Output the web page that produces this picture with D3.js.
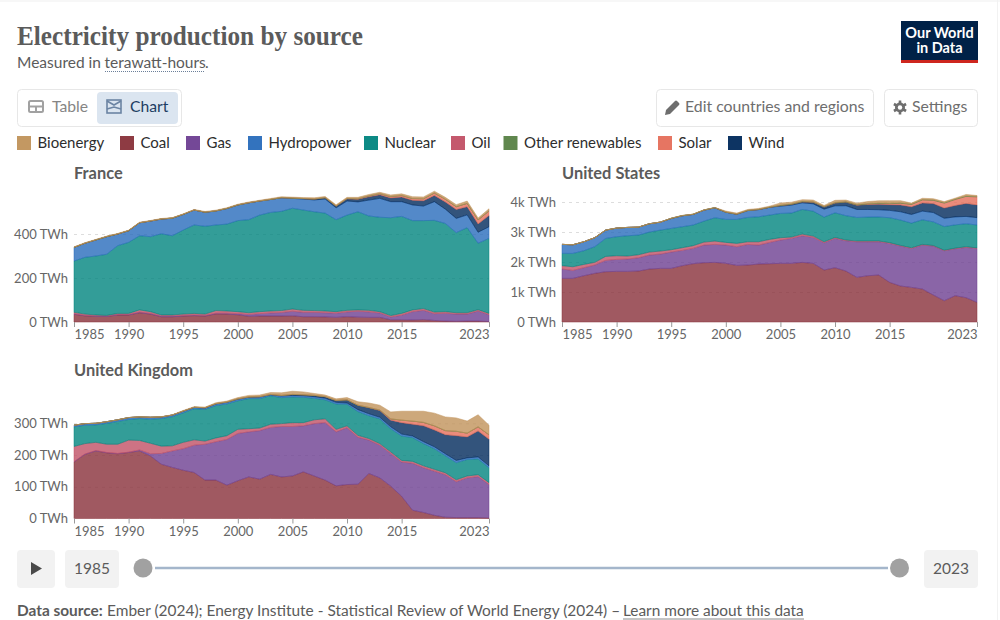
<!DOCTYPE html>
<html>
<head>
<meta charset="utf-8">
<script src="https://cdn.jsdelivr.net/npm/d3@7"></script>
<style>
  body { margin: 0; background: #fff; }
  text { font-family: Lato, "Noto Sans", sans-serif; }
</style>
</head>
<body>
<svg id="chart" width="1000" height="620"></svg>
<script>
const years = d3.range(1985, 2024);
const sources = ["Coal", "Gas", "Oil", "Nuclear", "Hydropower", "Wind", "Solar", "Other renewables", "Bioenergy"];
const legendOrder = ["Bioenergy", "Coal", "Gas", "Hydropower", "Nuclear", "Oil", "Other renewables", "Solar", "Wind"];
const sourceColors = ["#883039", "#6d3e91", "#c15065", "#00847e", "#286bbb", "#00295b", "#e56e5a", "#578145", "#c0925a"];

// France, TWh
const frCoal = [35,28,26,25,32,32,42,36,24,24,27,29,27,37,36,33,26,27,27,27,28,24,24,23,21,24,22,21,21,10,10,9,11,7,4,3,4,4,2];
const frGas = [2,2,2,2,2,2,3,3,3,3,3,3,3,3,4,5,8,11,14,16,21,20,20,19,19,22,27,25,20,13,21,38,42,31,36,33,32,46,31];
const frOil = [7,6,4,3,5,5,10,8,5,5,6,7,6,12,10,9,8,9,9,9,10,9,8,8,7,7,6,7,6,6,8,8,8,7,7,6,6,6,6];
const frNuclear = [233,258,268,278,308,323,337,341,369,360,382,402,399,389,395,414,423,439,448,451,458,456,449,445,418,433,446,429,429,445,441,406,400,417,401,364,387,302,341];
const frHydro = [62,64,73,80,53,53,59,71,67,80,71,68,64,64,71,71,77,64,59,62,45,50,54,64,54,64,45,72,86,73,67,71,66,85,65,65,58,50,53];
const frWind = [0,0,0,0,0,0,0,0,0,0,0,0,0,0,0,0,0,0,0,0,1,2,4,6,8,10,12,15,16,17,21,21,24,28,33,40,37,38,51];
const frSolar = [0,0,0,0,0,0,0,0,0,0,0,0,0,0,0,0,0,0,0,0,0,0,0,0,0,1,2,4,5,6,7,8,9,11,12,13,15,18,21];
const frOther = [0.5,0.5,0.5,0.5,0.5,0.5,0.5,0.5,0.5,0.5,0.5,0.5,0.5,0.5,0.5,0.5,0.5,0.5,0.5,0.5,0.5,0.5,0.5,0.5,0.5,0.5,0.5,0.5,0.5,0.5,0.5,0.5,0.5,0.5,0.5,0.5,0.5,0.5,0.5];
const frBio = [2,2,2,2,2,2,2,2,2,2,2,2,3,3,3,3,3,3,4,4,4,4,5,5,5,5,6,6,6,7,7,8,8,8,8,9,10,8,9];

// United States, TWh
const usCoal = [1454,1454,1543,1621,1676,1687,1687,1698,1765,1787,1787,1876,1943,1976,1987,1954,1887,1898,1931,1943,1954,1954,1987,1954,1732,1809,1698,1487,1543,1565,1321,1199,1154,1099,899,710,877,810,655];
const usGas = [311,266,266,278,377,400,411,444,466,477,544,511,511,588,599,611,622,688,633,710,777,833,888,866,910,977,1010,1188,1132,1110,1299,1332,1299,1465,1632,1665,1565,1676,1798];
const usOil = [111,122,111,89,133,122,100,100,100,100,78,89,89,100,111,89,111,89,111,100,78,44,55,44,33,33,25,22,22,25,25,22,22,22,18,18,19,23,16];
const usNuclear = [411,444,455,522,599,633,677,655,666,699,710,699,688,699,777,766,799,810,832,810,810,799,821,832,821,821,810,788,799,799,832,844,821,821,788,788,777,766,766];
const usHydro = [300,289,300,300,278,289,278,266,278,266,333,366,355,366,333,240,175,230,242,260,244,266,222,244,266,233,333,266,255,244,244,277,289,289,311,277,266,244,244];
const usWind = [0,0,0,0,0,0,0,0,0,0,0,0,0,0,0,0,0,0,0,0,18,27,33,55,74,95,120,141,168,182,190,227,254,272,298,338,379,434,425];
const usSolar = [0,0,0,0,0,0,0,0,0,0,0,0,0,0,0,0,0,0,0,0,0,0,1,1,2,3,4,9,16,25,35,55,78,100,110,166,200,233,266];
const usOther = [0,0,0,0,0,0,0,0,0,0,8,8,8,8,8,8,8,8,8,8,15,15,15,15,15,15,15,16,16,16,16,16,16,16,17,16,16,16,16];
const usBio = [0,0,0,0,0,0,0,0,0,0,0,0,0,0,0,30,28,28,28,30,70,55,55,55,32,70,50,45,65,75,80,72,30,40,38,35,30,50,30];

// United Kingdom, TWh
const ukCoal = [178,202,213,207,204,208,213,197,171,161,152,145,121,121,105,119,131,124,139,131,134,147,134,121,103,107,108,142,128,102,70,26,19,10,4,3,3,3,2];
const ukGas = [1,1,1,1,1,1,3,7,34,52,68,86,113,121,144,149,142,153,148,159,156,145,165,181,170,179,148,105,103,103,108,148,141,139,134,113,125,129,105];
const ukOil = [48,33,26,26,29,38,30,33,23,16,20,17,10,12,12,13,10,8,10,9,12,10,12,12,8,6,6,5,5,5,5,6,6,6,6,6,6,6,6];
const ukNuclear = [62,58,55,66,72,65,69,76,87,92,93,98,100,102,100,90,95,93,90,82,81,80,68,60,80,68,75,72,78,73,77,75,70,65,54,54,52,50,47];
const ukHydro = [5,5,5,5,5,6,5,6,5,5,5,4,4,5,5,5,4,5,3,5,5,5,5,5,5,4,6,6,5,6,6,5,6,6,6,7,5,6,6];
const ukWind = [0,0,0,0,0,0,0,0,0,0,0.5,0.5,1,1,1,1,1,1,1,2,3,3,4,5,6,10,14,19,21,21,36,37,50,53,60,78,66,82,84];
const ukSolar = [0,0,0,0,0,0,0,0,0,0,0,0,0,0,0,0,0,0,0,0,0,0,0,0,0,0,0,1,2,4,8,10,11,13,13,14,12,13,14];
const ukOther = [0,0,0,0,0,0,0,0,0,0,0,0,0,0,0,0,0,0,0,0,0,0,0,0,0,0,0,0,0,0,0,0,0,0,0,0,0,0,0];
const ukBio = [0,0,0,0,0,0.5,0.5,0.5,1,1,2,2,2,3,3,4,5,5,6,8,10,9,6,5,5,7,11,14,15,22,28,31,35,40,43,42,38,38,30];

const xTicks = [1985, 1990, 1995, 2000, 2005, 2010, 2015, 2023];
const frTicks = [0, 200, 400];
const usTicks = [0, 1000, 2000, 3000, 4000];
const ukTicks = [0, 100, 200, 300];

const panels = [
  { name: "France", series: [frCoal, frGas, frOil, frNuclear, frHydro, frWind, frSolar, frOther, frBio],
    ticks: frTicks, left: 74, base: 322, top: 234 },
  { name: "United States", series: [usCoal, usGas, usOil, usNuclear, usHydro, usWind, usSolar, usOther, usBio],
    ticks: usTicks, left: 562, base: 322, top: 202 },
  { name: "United Kingdom", series: [ukCoal, ukGas, ukOil, ukNuclear, ukHydro, ukWind, ukSolar, ukOther, ukBio],
    ticks: ukTicks, left: 74, base: 518.5, top: 423.3 }
];

const grey = "#5b5b5b";
const svg = d3.select("#chart");
const color = d3.scaleOrdinal().domain(sources).range(sourceColors);

drawHeader();
drawLegend();
panels.forEach(drawPanel);
drawTimeline();

function addText(x, y, str, size, fill, weight, anchor) {
  return svg.append("text")
    .attr("x", x)
    .attr("y", y)
    .attr("font-size", size)
    .attr("fill", fill)
    .attr("font-weight", weight || 400)
    .attr("text-anchor", anchor || "start")
    .text(str);
}

function addBox(x, y, w, h, fill, stroke) {
  return svg.append("rect")
    .attr("x", x)
    .attr("y", y)
    .attr("width", w)
    .attr("height", h)
    .attr("rx", 4)
    .attr("fill", fill)
    .attr("stroke", stroke || "none");
}

function drawHeader() {
  svg.append("line")
    .attr("x1", 0).attr("x2", 1000)
    .attr("y1", 1).attr("y2", 1)
    .attr("stroke", "#efefef");
  svg.append("line")
    .attr("x1", 997.5).attr("x2", 997.5)
    .attr("y1", 0).attr("y2", 620)
    .attr("stroke", "#f2f2f2");

  addText(17, 45, "Electricity production by source", 27, grey, 700)
    .style("font-family", '"Liberation Serif", serif')
    .attr("textLength", 346)
    .attr("lengthAdjust", "spacingAndGlyphs");

  addText(17, 67.5, "Measured in ", 15.5, grey);
  addText(104.5, 67.5, "terawatt-hours", 15.5, grey);
  addText(205, 67.5, ".", 15.5, grey);
  svg.append("line")
    .attr("x1", 105).attr("x2", 204)
    .attr("y1", 71.5).attr("y2", 71.5)
    .attr("stroke", "#6b7f99")
    .attr("stroke-dasharray", "1,1");

  // logo
  svg.append("rect").attr("x", 901).attr("y", 21).attr("width", 77).attr("height", 42).attr("fill", "#002147");
  svg.append("rect").attr("x", 901).attr("y", 60).attr("width", 77).attr("height", 3).attr("fill", "#ce261e");
  addText(939.5, 38, "Our World", 14.5, "#fff", 700, "middle");
  addText(939.5, 53, "in Data", 14.5, "#fff", 700, "middle");

  // table / chart switch
  addBox(17.5, 89.5, 164, 37, "#fff", "#e7e7e7");
  addBox(97, 92, 81, 32, "#dbe5f0");
  const tableIcon = svg.append("g").attr("transform", "translate(29,101)")
    .attr("fill", "none").attr("stroke", "#a1a1a1").attr("stroke-width", 2);
  tableIcon.append("rect").attr("width", 14).attr("height", 11).attr("rx", 1.5);
  tableIcon.append("path").attr("d", "M0 5.5H14M7 5.5V11");
  addText(52, 112, "Table", 15.7, "#858585");
  const chartIcon = svg.append("g").attr("transform", "translate(107,100)")
    .attr("fill", "none").attr("stroke", "#6b84a3").attr("stroke-width", 1.6);
  chartIcon.append("rect").attr("width", 14).attr("height", 13);
  chartIcon.append("path").attr("d", "M0 1L7 5L14 1M0 9L7 7L14 9");
  addText(130, 112, "Chart", 15.7, "#1d3d63");

  // right hand buttons
  addBox(656.5, 89.5, 217, 37, "#fff", "#e7e7e7");
  svg.append("path")
    .attr("transform", "translate(665,100)")
    .attr("d", "M0 15L1 10L10 1Q11 0 12 1L14 3Q15 4 14 5L5 14Z")
    .attr("fill", "#6e6e6e");
  addText(685, 112, "Edit countries and regions", 15.8, "#6e6e6e");
  addBox(884.5, 89.5, 93, 37, "#fff", "#e7e7e7");
  const gear = svg.append("g").attr("transform", "translate(900,107.5)");
  gear.selectAll("line")
    .data(d3.range(0, 180, 60))
    .enter()
    .append("line")
    .attr("x1", -7).attr("x2", 7)
    .attr("stroke", "#6e6e6e")
    .attr("stroke-width", 2.6)
    .attr("transform", d => `rotate(${d + 30})`);
  gear.append("circle").attr("r", 5).attr("fill", "#6e6e6e");
  gear.append("circle").attr("r", 2.2).attr("fill", "#fff");
  addText(912, 112, "Settings", 15.8, "#6e6e6e");
}

function drawLegend() {
  const legendX = [17, 120, 186, 248, 364, 451, 503.5, 658, 728];
  legendOrder.forEach((name, i) => {
    svg.append("rect")
      .attr("x", legendX[i])
      .attr("y", 136)
      .attr("width", 14)
      .attr("height", 14)
      .attr("fill", color(name))
      .attr("fill-opacity", 0.95);
    addText(legendX[i] + 20.5, 148, name, 15, "#2d2d2d");
  });
}

function drawPanel(panel) {
  const xScale = d3.scaleLinear()
    .domain([1985, 2023])
    .range([panel.left, panel.left + 415]);

  const yMax = d3.max(panel.ticks);
  const yScale = d3.scaleLinear()
    .domain([0, yMax])
    .range([panel.base, panel.top]);

  addText(panel.left, panel.base - 143, panel.name, 16.4, grey, 700);

  // gridlines sit behind the areas
  const grid = svg.append("g")
    .attr("transform", `translate(${panel.left},0)`)
    .call(d3.axisLeft(yScale).tickValues(panel.ticks.slice(1)).tickSize(-415).tickFormat(""));
  grid.select(".domain").remove();
  grid.selectAll("line")
    .attr("stroke", "#dddddd")
    .attr("stroke-dasharray", "3,4");

  const rows = years.map((year, i) => {
    const row = { year };
    sources.forEach((s, j) => { row[s] = panel.series[j][i]; });
    return row;
  });
  const stacked = d3.stack().keys(sources)(rows);

  const area = d3.area()
    .x(d => xScale(d.data.year))
    .y0(d => yScale(d[0]))
    .y1(d => yScale(d[1]));

  svg.append("g")
    .selectAll("path")
    .data(stacked)
    .enter()
    .append("path")
    .attr("d", area)
    .attr("fill", d => color(d.key))
    .attr("fill-opacity", 0.8)
    .attr("stroke", d => color(d.key))
    .attr("stroke-width", 0.5);

  const yAxis = d3.axisLeft(yScale)
    .tickValues(panel.ticks)
    .tickSize(0)
    .tickPadding(6)
    .tickFormat(d => d >= 1000 ? `${d / 1000}k TWh` : `${d} TWh`);
  const yGroup = svg.append("g")
    .attr("transform", `translate(${panel.left},0)`)
    .call(yAxis);
  yGroup.select(".domain").remove();
  yGroup.selectAll("text")
    .attr("font-size", 13)
    .attr("fill", "#666666")
    .style("font-family", "Lato");

  const xAxis = d3.axisBottom(xScale)
    .tickValues(xTicks)
    .tickSize(5)
    .tickPadding(3)
    .tickFormat(d3.format("d"));
  const xGroup = svg.append("g")
    .attr("transform", `translate(0,${panel.base})`)
    .call(xAxis);
  xGroup.select(".domain").remove();
  xGroup.selectAll("line").attr("stroke", "#999999");
  xGroup.selectAll("text")
    .attr("font-size", 13)
    .attr("fill", "#666666")
    .style("font-family", "Lato")
    .attr("text-anchor", d => d === 1985 ? "start" : d === 2023 ? "end" : "middle");
}

function drawTimeline() {
  addBox(17, 550, 38, 38, "#f2f2f2");
  svg.append("path").attr("d", "M31 562V575L42 568.5Z").attr("fill", "#4a4a4a");
  addBox(65, 550, 54, 38, "#f2f2f2");
  addText(92, 574, "1985", 15.5, "#5b5b5b", 400, "middle");
  addBox(924, 550, 54, 38, "#f2f2f2");
  addText(951, 574, "2023", 15.5, "#5b5b5b", 400, "middle");

  svg.append("line")
    .attr("x1", 155).attr("x2", 888)
    .attr("y1", 568).attr("y2", 568)
    .attr("stroke", "#a4b6cb")
    .attr("stroke-width", 2.5);
  svg.selectAll(".handle")
    .data([143, 899.5])
    .enter()
    .append("circle")
    .attr("class", "handle")
    .attr("cx", d => d)
    .attr("cy", 568)
    .attr("r", 9.5)
    .attr("fill", "#a1a1a1");

  addText(17, 616, "Data source:", 15.4, grey, 700);
  addText(107, 616, "Ember (2024); Energy Institute - Statistical Review of World Energy (2024) –", 15.45, grey);
  addText(623, 616, "Learn more about this data", 15.4, grey);
  svg.append("line")
    .attr("x1", 623).attr("x2", 804)
    .attr("y1", 619).attr("y2", 619)
    .attr("stroke", "#8a8a8a");
}
</script>
</body>
</html>
